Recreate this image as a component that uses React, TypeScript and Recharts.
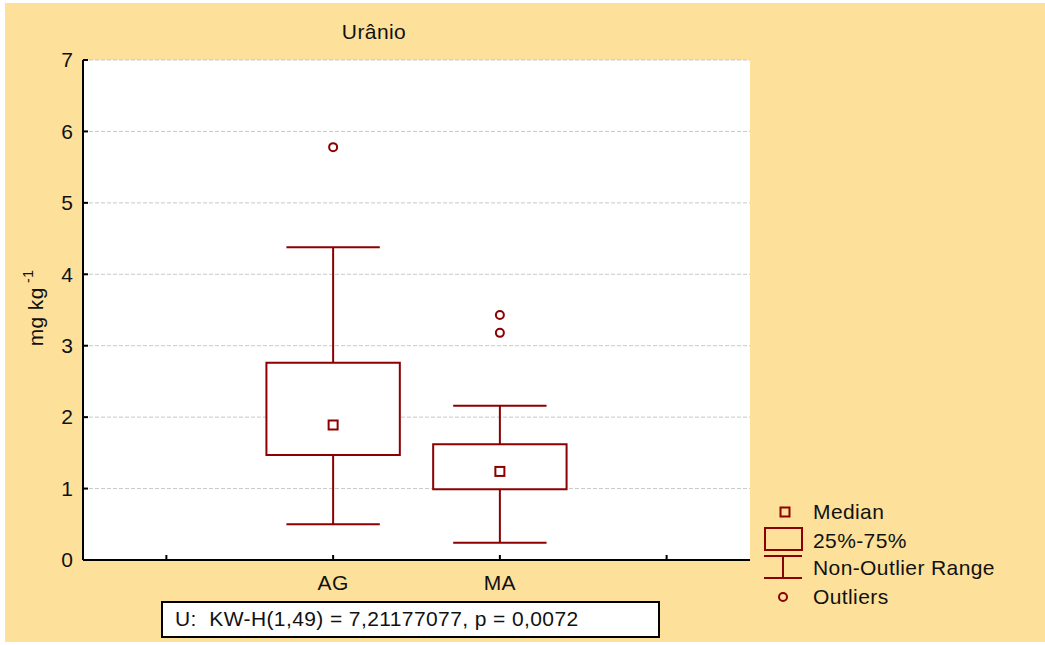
import React from "react";
import {
  ComposedChart,
  XAxis,
  YAxis,
  CartesianGrid,
  ReferenceArea,
  ReferenceLine,
  Scatter,
  Customized,
} from "recharts";

// Box plot of uranium content per group
const groups = ["AG", "MA"];
const groupX = [1, 2];
const q1 = [1.47, 0.99];
const q3 = [2.76, 1.62];
const medians = [1.89, 1.24];
const whiskerLow = [0.5, 0.24];
const whiskerHigh = [4.38, 2.16];
const outlierGroup = ["AG", "MA", "MA"];
const outlierValue = [5.78, 3.43, 3.18];

const yTicks = [0, 1, 2, 3, 4, 5, 6, 7];
const xTicks = [0, 1, 2, 3];
const statText = "U:  KW-H(1,49) = 7,21177077, p = 0,0072";

const RED = "#8b0000";
const FONT = "'Liberation Sans', Arial, Helvetica, sans-serif";
const FS = 21;
const LS = 0.4;
const BOX_HALF = 0.4;
const CAP_HALF = 0.28;

const medianData = groups.map((g, i) => ({ x: groupX[i], y: medians[i] }));
const outlierData = outlierValue.map((v, i) => ({
  x: groupX[groups.indexOf(outlierGroup[i])],
  y: v,
}));

const LeftTick = (props: any) => {
  const { x, y, payload } = props;
  return (
    <g>
      <line x1={x} y1={y} x2={x + 5} y2={y} stroke="#000" strokeWidth={2} />
      <text x={x - 10} y={y} dy="0.35em" textAnchor="end" fontSize={FS} fontFamily={FONT} fill="#111">
        {payload.value}
      </text>
    </g>
  );
};

const RightTick = (props: any) => {
  const { x, y } = props;
  return <line x1={x} y1={y} x2={x - 5} y2={y} stroke="#000" strokeWidth={2} />;
};

const BottomTick = (props: any) => {
  const { x, y, payload } = props;
  const idx = groupX.indexOf(payload.value);
  return (
    <g>
      <line x1={x} y1={y} x2={x} y2={y - 5} stroke="#000" strokeWidth={2} />
      {idx >= 0 && (
        <text
          x={x}
          y={y + 23}
          dy="0.35em"
          textAnchor="middle"
          fontSize={FS}
          letterSpacing={LS}
          fontFamily={FONT}
          fill="#111"
        >
          {groups[idx]}
        </text>
      )}
    </g>
  );
};

const TopTick = (props: any) => {
  const { x, y } = props;
  return <line x1={x} y1={y} x2={x} y2={y + 5} stroke="#000" strokeWidth={2} />;
};

const MedianShape = (props: any) => (
  <rect x={props.cx - 4.5} y={props.cy - 4.5} width={9} height={9} fill="#fff" stroke={RED} strokeWidth={2} />
);

const OutlierShape = (props: any) => (
  <circle cx={props.cx} cy={props.cy} r={4} fill="#fff" stroke={RED} strokeWidth={2} />
);

// title, axis label, legend and test statistic box
const Decorations = () => (
  <g fontFamily={FONT} fill="#111" fontSize={FS} letterSpacing={LS}>
    <text x={374} y={32} dy="0.35em" textAnchor="middle">
      Urânio
    </text>
    <text x={36} y={308} transform="rotate(-90 36 308)" textAnchor="middle" dy="0.35em">
      mg kg
      <tspan dy={-10} fontSize={14}>
        {" -1"}
      </tspan>
    </text>

    <rect x={780.5} y={507.5} width={9} height={9} fill="none" stroke={RED} strokeWidth={2} />
    <text x={813} y={512} dy="0.35em">Median</text>

    <rect x={765} y={528} width={37} height={22} fill="none" stroke={RED} strokeWidth={2} />
    <text x={813} y={541} dy="0.35em">25%-75%</text>

    <line x1={764} y1={556} x2={802} y2={556} stroke={RED} strokeWidth={2} />
    <line x1={783} y1={556} x2={783} y2={578} stroke={RED} strokeWidth={2} />
    <line x1={764} y1={578} x2={802} y2={578} stroke={RED} strokeWidth={2} />
    <text x={813} y={568} dy="0.35em">Non-Outlier Range</text>

    <circle cx={783} cy={597} r={4} fill="none" stroke={RED} strokeWidth={2} />
    <text x={813} y={597} dy="0.35em">Outliers</text>

    <rect x={162} y={602} width={497} height={35} fill="#fff" stroke="#000" strokeWidth={2} />
    <text x={175} y={619} dy="0.35em" style={{ whiteSpace: "pre" }}>
      {statText}
    </text>
  </g>
);

export default function App() {
  return (
    <div style={{ position: "absolute", left: 0, top: 0, width: 1045, height: 645, background: "#fff" }}>
      <div style={{ position: "absolute", left: 5, top: 3, width: 1040, height: 639, background: "#fde09a" }} />
      <div style={{ position: "absolute", left: 0, top: 0 }}>
        <ComposedChart width={1045} height={645} margin={{ top: 60, right: 295, bottom: 45, left: 0 }}>
          <CartesianGrid vertical={false} fill="#fff" stroke="#c8c8c8" strokeDasharray="4 2" />
          <XAxis
            dataKey="x"
            type="number"
            domain={[-0.5, 3.5]}
            ticks={xTicks}
            height={40}
            axisLine={{ stroke: "#000", strokeWidth: 2 }}
            tickLine={false}
            tickSize={0}
            tickMargin={0}
            tick={<BottomTick />}
            interval={0}
          />
          <XAxis
            xAxisId="top"
            orientation="top"
            type="number"
            domain={[-0.5, 3.5]}
            ticks={xTicks}
            height={0}
            axisLine={{ stroke: "#000", strokeWidth: 2 }}
            tickLine={false}
            tickSize={0}
            tickMargin={0}
            tick={<TopTick />}
            interval={0}
          />
          <YAxis
            type="number"
            domain={[0, 7]}
            ticks={yTicks}
            width={83}
            axisLine={{ stroke: "#000", strokeWidth: 2 }}
            tickLine={false}
            tickSize={0}
            tickMargin={0}
            tick={<LeftTick />}
            interval={0}
          />
          <YAxis
            yAxisId="right"
            orientation="right"
            type="number"
            domain={[0, 7]}
            ticks={yTicks}
            width={0}
            axisLine={{ stroke: "#000", strokeWidth: 2 }}
            tickLine={false}
            tickSize={0}
            tickMargin={0}
            tick={<RightTick />}
            interval={0}
          />

          {groups.map((g, i) => (
            <ReferenceLine
              key={`wh-${g}`}
              segment={[
                { x: groupX[i], y: q3[i] },
                { x: groupX[i], y: whiskerHigh[i] },
              ]}
              stroke={RED}
              strokeWidth={2}
            />
          ))}
          {groups.map((g, i) => (
            <ReferenceLine
              key={`wl-${g}`}
              segment={[
                { x: groupX[i], y: whiskerLow[i] },
                { x: groupX[i], y: q1[i] },
              ]}
              stroke={RED}
              strokeWidth={2}
            />
          ))}
          {groups.map((g, i) => (
            <ReferenceLine
              key={`ch-${g}`}
              segment={[
                { x: groupX[i] - CAP_HALF, y: whiskerHigh[i] },
                { x: groupX[i] + CAP_HALF, y: whiskerHigh[i] },
              ]}
              stroke={RED}
              strokeWidth={2}
            />
          ))}
          {groups.map((g, i) => (
            <ReferenceLine
              key={`cl-${g}`}
              segment={[
                { x: groupX[i] - CAP_HALF, y: whiskerLow[i] },
                { x: groupX[i] + CAP_HALF, y: whiskerLow[i] },
              ]}
              stroke={RED}
              strokeWidth={2}
            />
          ))}
          {groups.map((g, i) => (
            <ReferenceArea
              key={`box-${g}`}
              x1={groupX[i] - BOX_HALF}
              x2={groupX[i] + BOX_HALF}
              y1={q1[i]}
              y2={q3[i]}
              fill="#fff"
              fillOpacity={1}
              stroke={RED}
              strokeWidth={2}
            />
          ))}

          <Scatter data={medianData} dataKey="y" shape={<MedianShape />} isAnimationActive={false} />
          <Scatter data={outlierData} dataKey="y" shape={<OutlierShape />} isAnimationActive={false} />

          <Customized component={Decorations} />
        </ComposedChart>
      </div>
    </div>
  );
}
